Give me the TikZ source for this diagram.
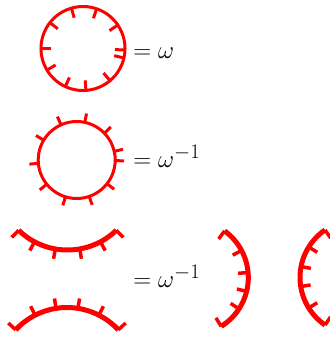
\documentclass[tikz,border=0pt]{standalone}
\DeclareMathSizes{27}{27}{20}{15}
\tikzset{
  loopline/.style={draw=red, line width=3bp},
  arcline/.style={draw=red, line width=5bp},
  ticka/.style={draw=red, line width=3bp},
  tickb/.style={draw=red, line width=3.5bp},
  eqlabel/.style={anchor=base west, inner sep=0pt, font=\fontsize{27}{30}\selectfont}
}
\begin{document}
\begin{tikzpicture}[x=1bp,y=1bp]
\useasboundingbox (0,0) rectangle (330,337);
\clip (0,0) rectangle (330,337);
% circle with inward ticks
\coordinate (c1) at (83,288.5);
\draw[loopline] (c1) circle[radius=42];
\foreach \a in {34,71,106,142,180,211,245,274,310,-2,-13}
  \draw[ticka,shift={(c1)}] (\a:42) -- (\a:32);
\node[eqlabel] (eq1) at (133.3,279) {$=\omega$};
% circle with outward ticks
\coordinate (c2) at (76.7,177);
\draw[loopline] (c2) circle[radius=38.5];
\foreach \a in {-1,13,44,78,114,149,185,219,253,289,322}
  \draw[ticka,shift={(c2)}] (\a:38.5) -- (\a:47.5);
\node[eqlabel] (eq2) at (133.3,170) {$=\omega^{-1}$};
% upper arc (smile)
\coordinate (c3) at (67.5,157.3);
\draw[arcline,shift={(c3)}] (226:70.3) arc[start angle=226,end angle=314,radius=70.3];
\foreach \a in {226,242,260,280,298,314}
  \draw[tickb,shift={(c3)}] (\a:70.3) -- (\a:80.3);
% lower arc (frown)
\coordinate (c4) at (67,-40.7);
\draw[arcline,shift={(c4)}] (43:70.2) arc[start angle=43,end angle=137,radius=70.2];
\foreach \a in {43,63,81,99,117,137}
  \draw[tickb,shift={(c4)}] (\a:70.2) -- (\a:80.2);
\node[eqlabel] (eq3) at (133.3,49.8) {$=\omega^{-1}$};
% right arc )
\coordinate (c5) at (190.7,59.5);
\draw[arcline,shift={(c5)}] (-58:57.6) arc[start angle=-58,end angle=54,radius=57.6];
\foreach \a in {54,28,5,-14,-33,-58}
  \draw[tickb,shift={(c5)}] (\a:57.6) -- (\a:47.6);
% left arc (
\coordinate (c6) at (357.6,59.5);
\draw[arcline,shift={(c6)}] (124.4:57.6) arc[start angle=124.4,end angle=235.6,radius=57.6];
\foreach \a in {124.4,148,169,189,212,235.6}
  \draw[tickb,shift={(c6)}] (\a:57.6) -- (\a:47.6);
\end{tikzpicture}
\end{document}
